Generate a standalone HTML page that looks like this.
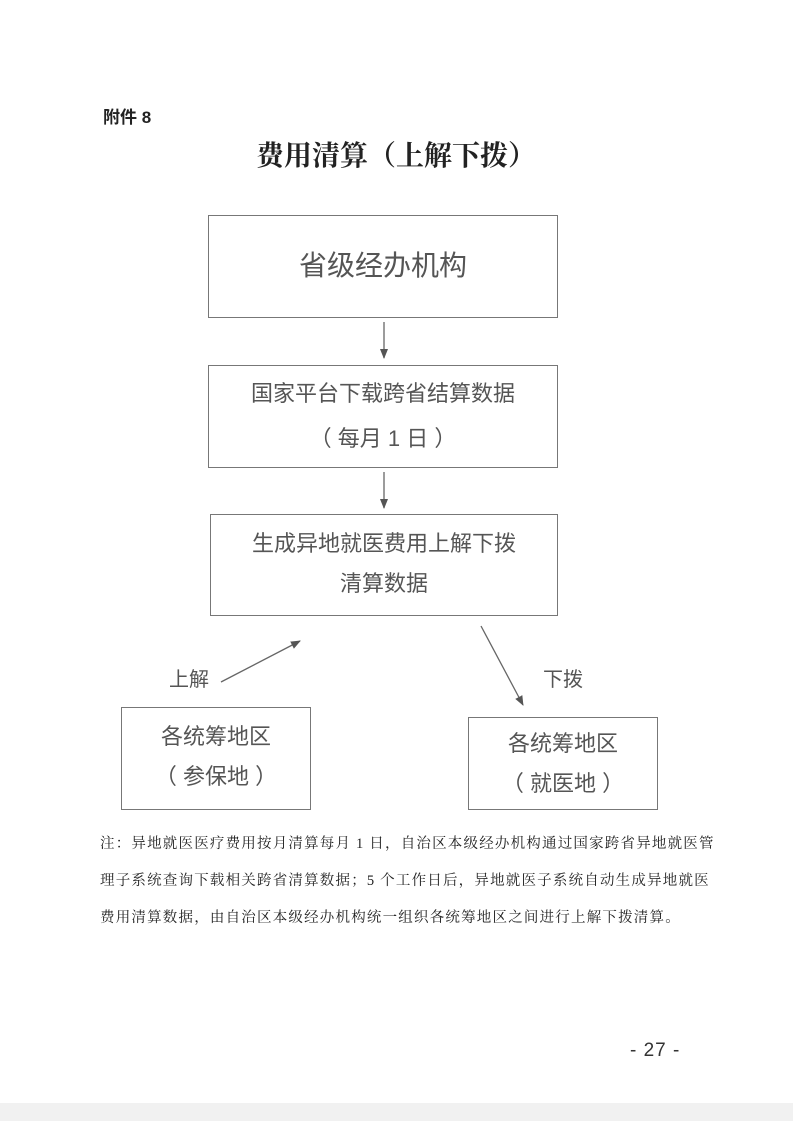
<!DOCTYPE html>
<html><head><meta charset="utf-8"><style>
body{margin:0;width:793px;height:1121px;background:#fff;position:relative;overflow:hidden;font-family:"Liberation Sans","Noto Sans CJK SC",sans-serif;}
.a{position:absolute;white-space:nowrap;}
.box{position:absolute;border:1.5px solid #777;box-sizing:border-box;color:#555;text-align:center;}
.n{font-family:"Liberation Serif","Noto Serif CJK SC",serif;font-size:14.5px;color:#222;letter-spacing:1.2px;}
</style></head><body>
<div class="a" style="left:103px;top:103px;font-size:17px;font-weight:bold;color:#222">附件 8</div>
<div class="a" style="left:256px;top:134px;font-size:28px;font-weight:bold;color:#222;font-family:'Noto Serif CJK SC',serif">费用清算（上解下拨）</div>

<div class="box" style="left:208px;top:215px;width:350px;height:103px;font-size:28px;line-height:99px">省级经办机构</div>
<div class="box" style="left:208px;top:365px;width:350px;height:103px;font-size:22px;line-height:45px;padding-top:5px">国家平台下载跨省结算数据<br>（ 每月 1 日 ）</div>
<div class="box" style="left:210px;top:514px;width:348px;height:102px;font-size:22px;line-height:40px;padding-top:9px">生成异地就医费用上解下拨<br>清算数据</div>
<div class="box" style="left:121px;top:707px;width:190px;height:103px;font-size:22px;line-height:40px;padding-top:9px">各统筹地区<br>（ 参保地 ）</div>
<div class="box" style="left:468px;top:717px;width:190px;height:93px;font-size:22px;line-height:40px;padding-top:6px">各统筹地区<br>（ 就医地 ）</div>

<div class="a" style="left:169px;top:663px;font-size:20px;color:#555">上解</div>
<div class="a" style="left:543px;top:663px;font-size:20px;color:#555">下拨</div>

<svg style="position:absolute;left:0;top:0" width="793" height="1121">
<defs><marker id="m" markerWidth="10" markerHeight="10" refX="9" refY="5" orient="auto" markerUnits="userSpaceOnUse"><path d="M0,1 L10,5 L0,9 Z" fill="#555"/></marker></defs>
<g stroke="#666" stroke-width="1.3" fill="none">
<line x1="384" y1="322" x2="384" y2="358" marker-end="url(#m)"/>
<line x1="384" y1="472" x2="384" y2="508" marker-end="url(#m)"/>
<line x1="221" y1="682" x2="300" y2="641" marker-end="url(#m)"/>
<line x1="481" y1="626" x2="523" y2="705" marker-end="url(#m)"/>
</g>
<rect x="0" y="1103" width="793" height="18" fill="#f1f1f1"/>
</svg>

<div class="a n" style="left:100px;top:832px">注：异地就医医疗费用按月清算每月 1 日，自治区本级经办机构通过国家跨省异地就医管</div>
<div class="a n" style="left:100px;top:869px">理子系统查询下载相关跨省清算数据；5 个工作日后，异地就医子系统自动生成异地就医</div>
<div class="a n" style="left:100px;top:906px">费用清算数据，由自治区本级经办机构统一组织各统筹地区之间进行上解下拨清算。</div>
<div class="a" style="left:630px;top:1040px;font-size:19px;color:#333;letter-spacing:1px">- 27 -</div>
</body></html>
